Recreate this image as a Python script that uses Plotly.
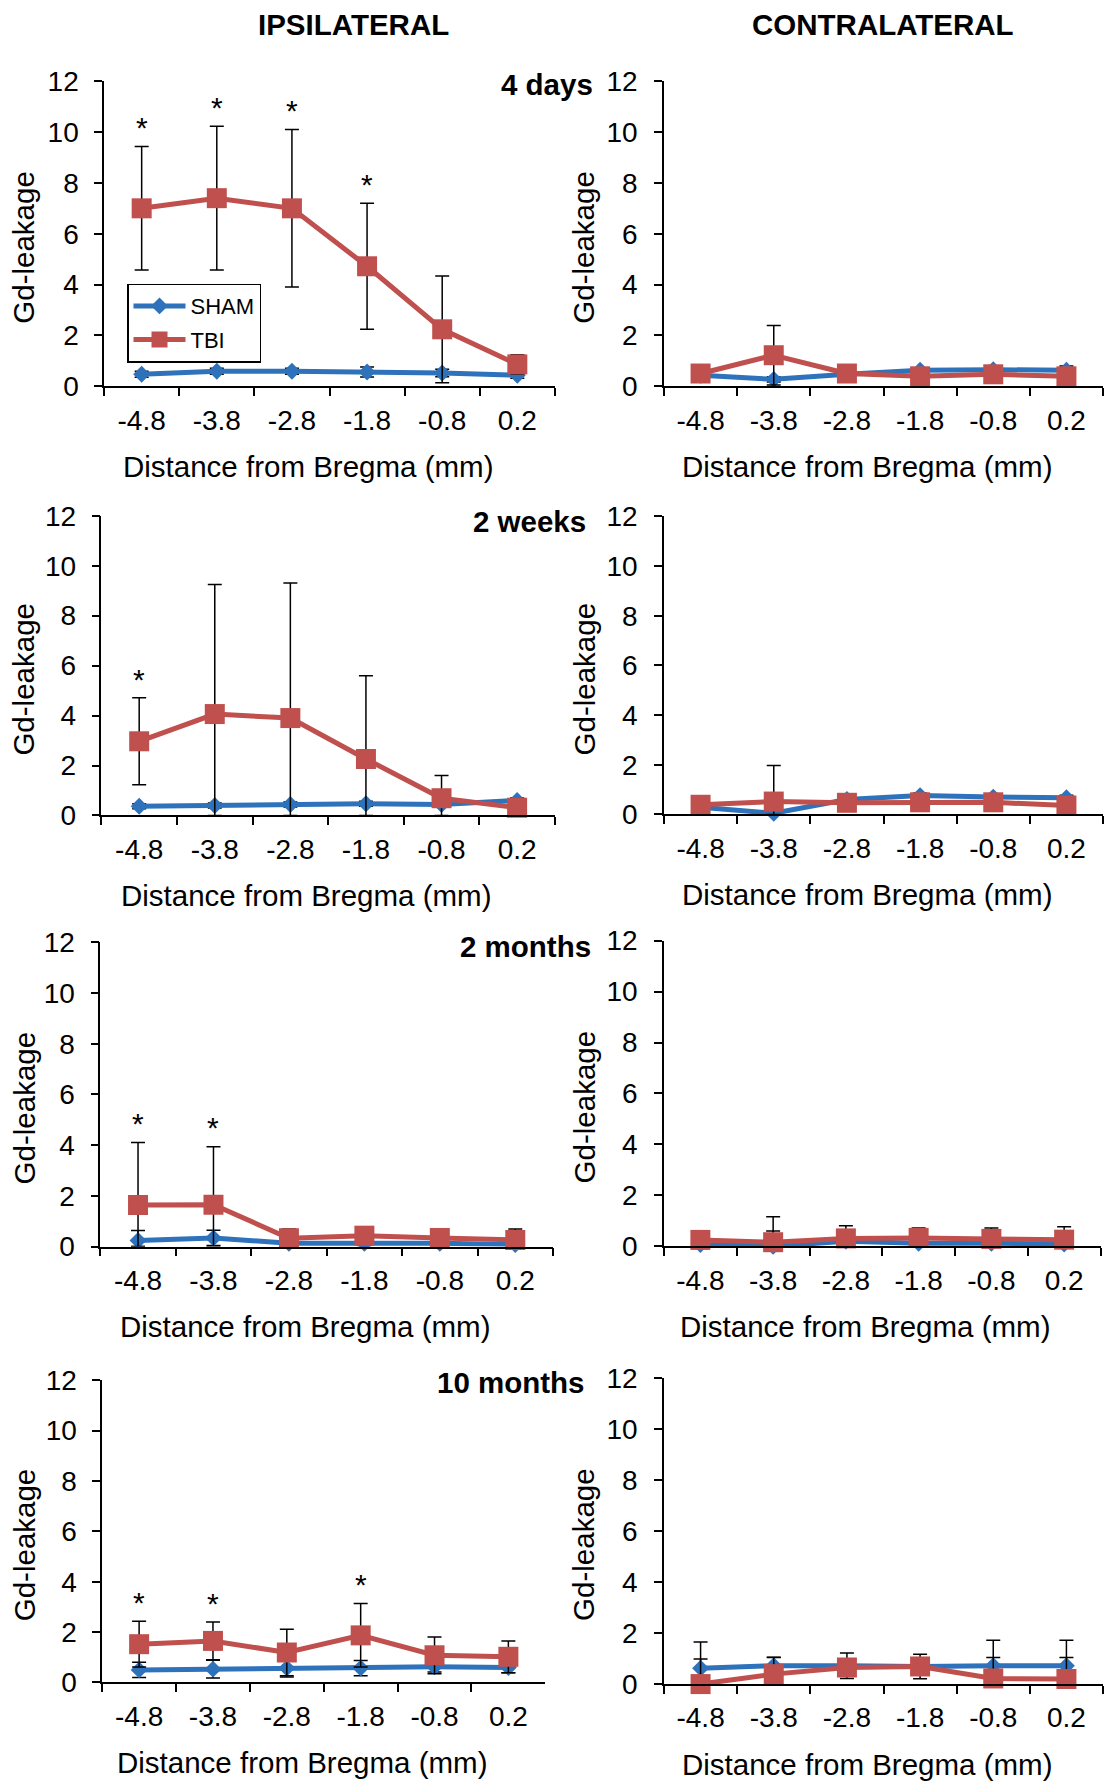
import plotly.graph_objects as go

# ---------------- data ----------------
distances = ["-4.8", "-3.8", "-2.8", "-1.8", "-0.8", "0.2"]
periods = ["4 days", "2 weeks", "2 months", "10 months"]
sides = ["IPSILATERAL", "CONTRALATERAL"]

# 4 days
ipsi_4d_sham = [0.47, 0.59, 0.59, 0.56, 0.52, 0.43]
ipsi_4d_sham_sd = [0.12, 0.12, 0.12, 0.2, 0.15, 0.12]
ipsi_4d_tbi = [7.0, 7.4, 7.0, 4.72, 2.24, 0.86]
ipsi_4d_tbi_sd = [2.43, 2.83, 3.1, 2.48, 2.1, 0.38]
contra_4d_sham = [0.43, 0.27, 0.47, 0.63, 0.65, 0.63]
contra_4d_sham_sd = [0.1, 0.1, 0.1, 0.1, 0.1, 0.17]
contra_4d_tbi = [0.5, 1.22, 0.5, 0.39, 0.47, 0.39]
contra_4d_tbi_sd = [0.1, 1.17, 0.1, 0.1, 0.1, 0.1]

# 2 weeks
ipsi_2w_sham = [0.37, 0.4, 0.44, 0.47, 0.44, 0.6]
ipsi_2w_sham_sd = [0.1, 0.1, 0.1, 0.1, 0.1, 0.1]
ipsi_2w_tbi = [2.97, 4.06, 3.9, 2.26, 0.69, 0.31]
ipsi_2w_tbi_sd = [1.74, 5.19, 5.41, 3.33, 0.91, 0.1]
contra_2w_sham = [0.29, 0.05, 0.6, 0.76, 0.7, 0.67]
contra_2w_sham_sd = [0.1, 0.1, 0.1, 0.1, 0.1, 0.1]
contra_2w_tbi = [0.39, 0.52, 0.47, 0.49, 0.49, 0.36]
contra_2w_tbi_sd = [0.1, 1.45, 0.1, 0.1, 0.1, 0.1]

# 2 months
ipsi_2m_sham = [0.24, 0.34, 0.13, 0.13, 0.13, 0.08]
ipsi_2m_sham_sd = [0.39, 0.3, 0.1, 0.1, 0.1, 0.1]
ipsi_2m_tbi = [1.64, 1.65, 0.33, 0.43, 0.34, 0.26]
ipsi_2m_tbi_sd = [2.46, 2.29, 0.36, 0.3, 0.35, 0.43]
contra_2m_sham = [0.07, 0.0, 0.2, 0.12, 0.12, 0.09]
contra_2m_sham_sd = [0.1, 0.6, 0.1, 0.1, 0.1, 0.1]
contra_2m_tbi = [0.25, 0.16, 0.31, 0.33, 0.29, 0.26]
contra_2m_tbi_sd = [0.36, 1.0, 0.5, 0.39, 0.43, 0.51]

# 10 months
ipsi_10m_sham = [0.5, 0.53, 0.57, 0.57, 0.62, 0.59]
ipsi_10m_sham_sd = [0.3, 0.35, 0.35, 0.3, 0.2, 0.2]
ipsi_10m_tbi = [1.52, 1.65, 1.19, 1.87, 1.08, 1.02]
ipsi_10m_tbi_sd = [0.91, 0.75, 0.92, 1.26, 0.73, 0.63]
contra_10m_sham = [0.62, 0.72, 0.72, 0.69, 0.72, 0.72]
contra_10m_sham_sd = [1.03, 0.33, 0.5, 0.48, 1.0, 1.0]
contra_10m_tbi = [0.0, 0.39, 0.65, 0.69, 0.22, 0.2]
contra_10m_tbi_sd = [0.98, 0.65, 0.3, 0.3, 0.82, 0.84]

# significance markers (ipsilateral only)
stars_4d = ["-4.8", "-3.8", "-2.8", "-1.8"]
stars_2w = ["-4.8"]
stars_2m = ["-4.8", "-3.8"]
stars_10m = ["-4.8", "-3.8", "-1.8"]

y_tick_vals = [0, 2, 4, 6, 8, 10, 12]
x_title = "Distance from Bregma (mm)"
y_title = "Gd-leakage"

# ---------------- layout helpers ----------------
W, H = 1105, 1785
FONT = "Arial, 'Liberation Sans', sans-serif"
BLUE = "#2E72BC"
RED = "#C0504D"

panels = [
    # (sham, sham_sd, tbi, tbi_sd, stars)
    (ipsi_4d_sham, ipsi_4d_sham_sd, ipsi_4d_tbi, ipsi_4d_tbi_sd, stars_4d),
    (contra_4d_sham, contra_4d_sham_sd, contra_4d_tbi, contra_4d_tbi_sd, []),
    (ipsi_2w_sham, ipsi_2w_sham_sd, ipsi_2w_tbi, ipsi_2w_tbi_sd, stars_2w),
    (contra_2w_sham, contra_2w_sham_sd, contra_2w_tbi, contra_2w_tbi_sd, []),
    (ipsi_2m_sham, ipsi_2m_sham_sd, ipsi_2m_tbi, ipsi_2m_tbi_sd, stars_2m),
    (contra_2m_sham, contra_2m_sham_sd, contra_2m_tbi, contra_2m_tbi_sd, []),
    (ipsi_10m_sham, ipsi_10m_sham_sd, ipsi_10m_tbi, ipsi_10m_tbi_sd, stars_10m),
    (contra_10m_sham, contra_10m_sham_sd, contra_10m_tbi, contra_10m_tbi_sd, []),
]

# plot-area boxes in pixels: (left, right, top, bottom)
boxes = [
    (104.1, 554.9, 80, 386), (664, 1103, 80, 386),
    (101.4, 554.9, 516, 816.7), (664, 1103, 516.7, 815.7),
    (100.3, 553, 944, 1249.3), (664, 1100.5, 942.3, 1249),
    (102.2, 545.3, 1383.3, 1686.7), (664, 1103, 1381, 1688.3),
]
period_label_pos = [(595, 83), (588, 522), (593, 948), (587, 1386)]
header_pos = [(353, 23), (883, 23)]

# vertical calibration of the rendered page
V_SCALE, V_OFF = 0.986, 13.5


def px(x):
    return x / W


def py(y):
    y = (y - V_OFF) / V_SCALE
    return 1 - y / H


fig = go.Figure()
annotations = []
layout_axes = {}

for i, (sham, sham_sd, tbi, tbi_sd, stars) in enumerate(panels):
    n = i + 1
    xa = "x" if n == 1 else f"x{n}"
    ya = "y" if n == 1 else f"y{n}"
    l, r, t, b = boxes[i]
    left_col = (i % 2 == 0)

    for vals, sd, name, color, symbol, msize in [
        (sham, sham_sd, "SHAM", BLUE, "diamond", 13),
        (tbi, tbi_sd, "TBI", RED, "square", 20),
    ]:
        minus = [min(s, v) for s, v in zip(sd, vals)]
        fig.add_trace(go.Scatter(
            x=distances, y=vals, name=name, xaxis=xa, yaxis=ya,
            mode="lines+markers",
            line=dict(color=color, width=5),
            marker=dict(symbol=symbol, size=msize, color=color,
                        line=dict(width=0)),
            error_y=dict(type="data", array=sd, arrayminus=minus,
                         symmetric=False, color="black", thickness=1.5,
                         width=7),
            cliponaxis=False,
            showlegend=(n == 1),
            legendgroup=name,
        ))

    # significance asterisks above TBI error bars
    for d in stars:
        k = distances.index(d)
        annotations.append(dict(
            x=k, y=tbi[k] + tbi_sd[k] + 0.75, xref=xa, yref=ya,
            text="*", showarrow=False, yanchor="middle",
            font=dict(family=FONT, size=30, color="black"),
        ))

    axis_common = dict(showline=True, linecolor="black", linewidth=1.5,
                       ticks="outside", tickcolor="black", tickwidth=1.5,
                       ticklen=8, showgrid=False, zeroline=False,
                       tickfont=dict(family=FONT, size=28, color="black"))
    layout_axes["xaxis" if n == 1 else f"xaxis{n}"] = dict(
        axis_common, domain=[px(l), px(r)], anchor=ya,
        type="category", range=[-0.5, 5.5], tickson="boundaries",
        ticklabelstandoff=8,
    )
    layout_axes["yaxis" if n == 1 else f"yaxis{n}"] = dict(
        axis_common, domain=[py(b), py(t)], anchor=xa,
        range=[0, 12], tickvals=y_tick_vals,
        ticklabelstandoff=10 if left_col else 11,
    )

    # axis titles
    cx = (l + r) / 2 - (22 if left_col else 17)
    annotations.append(dict(
        x=px(cx), y=py(b + 80.5), xref="paper", yref="paper",
        text=x_title, showarrow=False, xanchor="center", yanchor="middle",
        font=dict(family=FONT, size=29.5, color="black"),
    ))
    tx = 24 if left_col else 584
    annotations.append(dict(
        x=px(tx), y=py((t + b) / 2 + 14), xref="paper", yref="paper",
        text=y_title, showarrow=False, textangle=-90,
        xanchor="center", yanchor="middle",
        font=dict(family=FONT, size=29.5, color="black"),
    ))

# period labels
for p, (x, y) in zip(periods, period_label_pos):
    annotations.append(dict(
        x=px(x), y=py(y), xref="paper", yref="paper",
        text=f"<b>{p}</b>", showarrow=False, xanchor="right",
        yanchor="middle", font=dict(family=FONT, size=29.5, color="black"),
    ))

# column headers
for s, (x, y) in zip(sides, header_pos):
    annotations.append(dict(
        x=px(x), y=py(y), xref="paper", yref="paper",
        text=f"<b>{s}</b>", showarrow=False, xanchor="center",
        yanchor="middle", font=dict(family=FONT, size=29.5, color="black"),
    ))

fig.update_layout(
    width=W, height=H,
    margin=dict(l=0, r=0, t=0, b=0),
    paper_bgcolor="white", plot_bgcolor="white",
    showlegend=True,
    legend=dict(x=px(127), y=py(283), xanchor="left", yanchor="top",
                bordercolor="black", borderwidth=1.5, bgcolor="white",
                font=dict(family=FONT, size=22, color="black"),
                traceorder="grouped", tracegroupgap=2,
                itemwidth=52),
    annotations=annotations,
    **layout_axes,
)

fig.write_html("out.html")
